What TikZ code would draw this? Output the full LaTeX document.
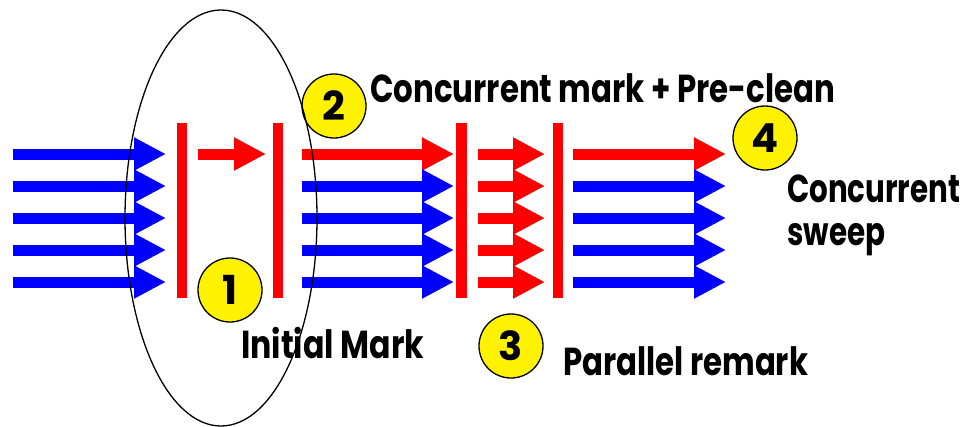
\documentclass[tikz,border=0pt]{standalone}
\usepackage{fontspec}
\setmainfont{Poppins}
\usetikzlibrary{arrows.meta}
\newcommand\fitw[2]{\resizebox{#1}{\height}{#2}}
\begin{document}
\begin{tikzpicture}[x=1pt,y=-1pt,
  arr/.style={line width=11pt,-{Triangle[length=32pt,width=31pt]}},
  barr/.style={arr,blue},
  rarr/.style={arr,red},
  redbar/.style={fill=red},
  numc/.style={circle,draw=black,line width=1.3pt,fill=yellow,minimum size=64pt,inner sep=0pt,
    font=\bfseries\fontsize{40}{40}\selectfont},
  lbl/.style={inner sep=0pt,anchor=base west,font=\bfseries\fontsize{39}{42}\selectfont},
  oval/.style={draw=black,line width=1.3pt}]
\useasboundingbox (0,0) rectangle (965,426);
% group 1 (blue, incoming)
\foreach \y in {154,186,218,250,282} \draw[barr] (13,\y) -- (166,\y);
% bars
\fill[redbar] (177,123) rectangle (187,298);
\fill[redbar] (273,123) rectangle (283,298);
\fill[redbar] (456,123) rectangle (467,298);
\fill[redbar] (553,123) rectangle (563,298);
% initial mark arrow
\draw[rarr] (198,154) -- (266,154);
% group 2
\draw[rarr] (302,154) -- (454,154);
\foreach \y in {186,218,250,282} \draw[barr] (302,\y) -- (454,\y);
% remark arrows
\foreach \y in {154,186,218,250,282} \draw[rarr] (478,\y) -- (545,\y);
% group 3
\draw[rarr] (573,154) -- (726,154);
\foreach \y in {186,218,250,282} \draw[barr] (573,\y) -- (726,\y);
% numbered circles
\node[numc] (c1) at (230,290) {1};
\node[numc] (c2) at (334,106) {2};
\node[numc] (c3) at (511,346) {3};
\node[numc] (c4) at (765,138) {4};
% labels
\node[lbl] (t2) at (370,102) {\fitw{465pt}{Concurrent mark + Pre-clean}};
\node[lbl] (t1) at (241,358) {\fitw{183pt}{Initial Mark}};
\node[lbl] (t3) at (563,375) {\fitw{245pt}{Parallel remark}};
\node[lbl] (t4a) at (787,202) {\fitw{173pt}{Concurrent}};
\node[lbl] (t4b) at (787,245) {\fitw{98pt}{sweep}};
% ellipse
\draw[oval] (221,218) ellipse [x radius=96pt, y radius=208pt];
\end{tikzpicture}
\end{document}
